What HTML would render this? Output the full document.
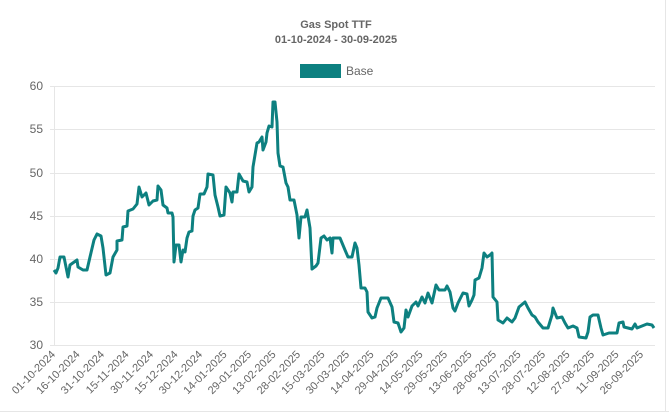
<!DOCTYPE html>
<html><head><meta charset="utf-8"><style>
html,body{margin:0;padding:0;background:#fff;}
svg{display:block;font-family:"Liberation Sans",Arial,sans-serif;}
</style></head><body>
<svg width="669" height="415" viewBox="0 0 669 415">
<rect x="0" y="0" width="669" height="415" fill="#fff"/>
<line x1="0" y1="411.5" x2="669" y2="411.5" stroke="#e6e6e6"/>
<line x1="665.5" y1="0" x2="665.5" y2="411" stroke="#e6e6e6"/>
<text x="336" y="28" text-anchor="middle" font-size="11" font-weight="bold" fill="#666">Gas Spot TTF</text>
<text x="336" y="43" text-anchor="middle" font-size="11" font-weight="bold" fill="#666">01-10-2024 - 30-09-2025</text>
<rect x="300" y="64" width="41" height="14" fill="#0d8080"/>
<text x="346" y="75" font-size="12" fill="#666">Base</text>
<g stroke="#e6e6e6" stroke-width="1">
<line x1="50" y1="86.5" x2="655" y2="86.5"/>
<line x1="50" y1="129.5" x2="655" y2="129.5"/>
<line x1="50" y1="173.5" x2="655" y2="173.5"/>
<line x1="50" y1="216.5" x2="655" y2="216.5"/>
<line x1="50" y1="259.5" x2="655" y2="259.5"/>
<line x1="50" y1="302.5" x2="655" y2="302.5"/>
<line x1="50" y1="345.5" x2="655" y2="345.5"/>
<line x1="54.5" y1="86" x2="54.5" y2="345"/>
</g>
<g font-size="12" fill="#666" text-anchor="end">
<text x="43" y="90">60</text><text x="43" y="133">55</text><text x="43" y="177">50</text>
<text x="43" y="220">45</text><text x="43" y="263">40</text><text x="43" y="306">35</text><text x="43" y="349">30</text>
</g>
<g font-size="11" fill="#666" text-anchor="end" id="xl"></g>
<polyline fill="none" stroke="#0d8080" stroke-width="3" stroke-linejoin="round" points="54,270 56,273 58,268 60,257 64,257 66,267 68,277 70,265 77,260 78,267 83,270 87,270 90,257 94,240 97,234 101,236 103,248 106,275 110,273 113,257 117,250 117,241 122,240 123,227 127,226 128,211 133,209 137,204 139,187 142,197 146,193 149,205 153,201 157,200 158,186 161,190 163,205 167,208 168,213 172,213 173,217 174,262 176,245 179,245 181,262 183,250 185,252 187,238 189,232 192,231 193,216 195,210 198,208 200,194 204,194 207,187 208,174 213,175 215,195 218,207 220,216 224,215 226,187 230,193 232,202 233,192 237,192 239,174 243,181 247,182 249,192 252,187 253,167 255,155 257,143 259,142 262,137 263,150 266,142 267,133 269,126 272,127 273,102 275,102 277,122 278,153 280,166 283,167 286,183 288,187 290,200 294,200 297,215 299,238 301,217 305,217 307,210 310,228 312,269 316,266 318,263 321,238 324,236 327,240 330,238 332,253 333,238 340,238 345,250 348,257 352,257 355,243 357,248 359,265 361,288 365,288 367,292 368,312 372,318 375,317 377,308 381,298 388,298 392,307 394,322 398,323 401,332 404,328 406,310 408,317 412,306 416,302 418,306 422,297 425,303 428,293 432,303 436,285 439,290 445,290 447,286 450,292 453,308 455,311 458,303 463,293 467,294 469,306 472,300 474,295 475,280 479,278 482,268 484,253 487,257 490,255 492,253 493,297 497,302 498,320 503,323 507,318 512,322 515,318 519,307 525,302 528,308 532,315 535,317 538,322 543,328 548,328 552,315 553,308 557,318 562,317 565,323 568,328 573,326 577,328 579,337 586,338 588,332 590,317 593,315 598,315 601,328 603,335 609,333 617,333 619,323 623,322 624,327 632,329 635,324 637,328 642,326 647,324 652,325 654,328"/>
<g font-size="11" fill="#666" text-anchor="end">
<text transform="translate(56,355) rotate(-45)">01-10-2024</text>
<text transform="translate(80.5,355) rotate(-45)">16-10-2024</text>
<text transform="translate(105,355) rotate(-45)">31-10-2024</text>
<text transform="translate(129.5,355) rotate(-45)">15-11-2024</text>
<text transform="translate(154,355) rotate(-45)">30-11-2024</text>
<text transform="translate(178.5,355) rotate(-45)">15-12-2024</text>
<text transform="translate(203,355) rotate(-45)">30-12-2024</text>
<text transform="translate(227.5,355) rotate(-45)">14-01-2025</text>
<text transform="translate(252,355) rotate(-45)">29-01-2025</text>
<text transform="translate(276.5,355) rotate(-45)">13-02-2025</text>
<text transform="translate(301,355) rotate(-45)">28-02-2025</text>
<text transform="translate(325.5,355) rotate(-45)">15-03-2025</text>
<text transform="translate(350,355) rotate(-45)">30-03-2025</text>
<text transform="translate(374.5,355) rotate(-45)">14-04-2025</text>
<text transform="translate(399,355) rotate(-45)">29-04-2025</text>
<text transform="translate(423.5,355) rotate(-45)">14-05-2025</text>
<text transform="translate(448,355) rotate(-45)">29-05-2025</text>
<text transform="translate(472.5,355) rotate(-45)">13-06-2025</text>
<text transform="translate(497,355) rotate(-45)">28-06-2025</text>
<text transform="translate(521.5,355) rotate(-45)">13-07-2025</text>
<text transform="translate(546,355) rotate(-45)">28-07-2025</text>
<text transform="translate(570.5,355) rotate(-45)">12-08-2025</text>
<text transform="translate(595,355) rotate(-45)">27-08-2025</text>
<text transform="translate(619.5,355) rotate(-45)">11-09-2025</text>
<text transform="translate(644,355) rotate(-45)">26-09-2025</text>
</g>
</svg>
</body></html>
